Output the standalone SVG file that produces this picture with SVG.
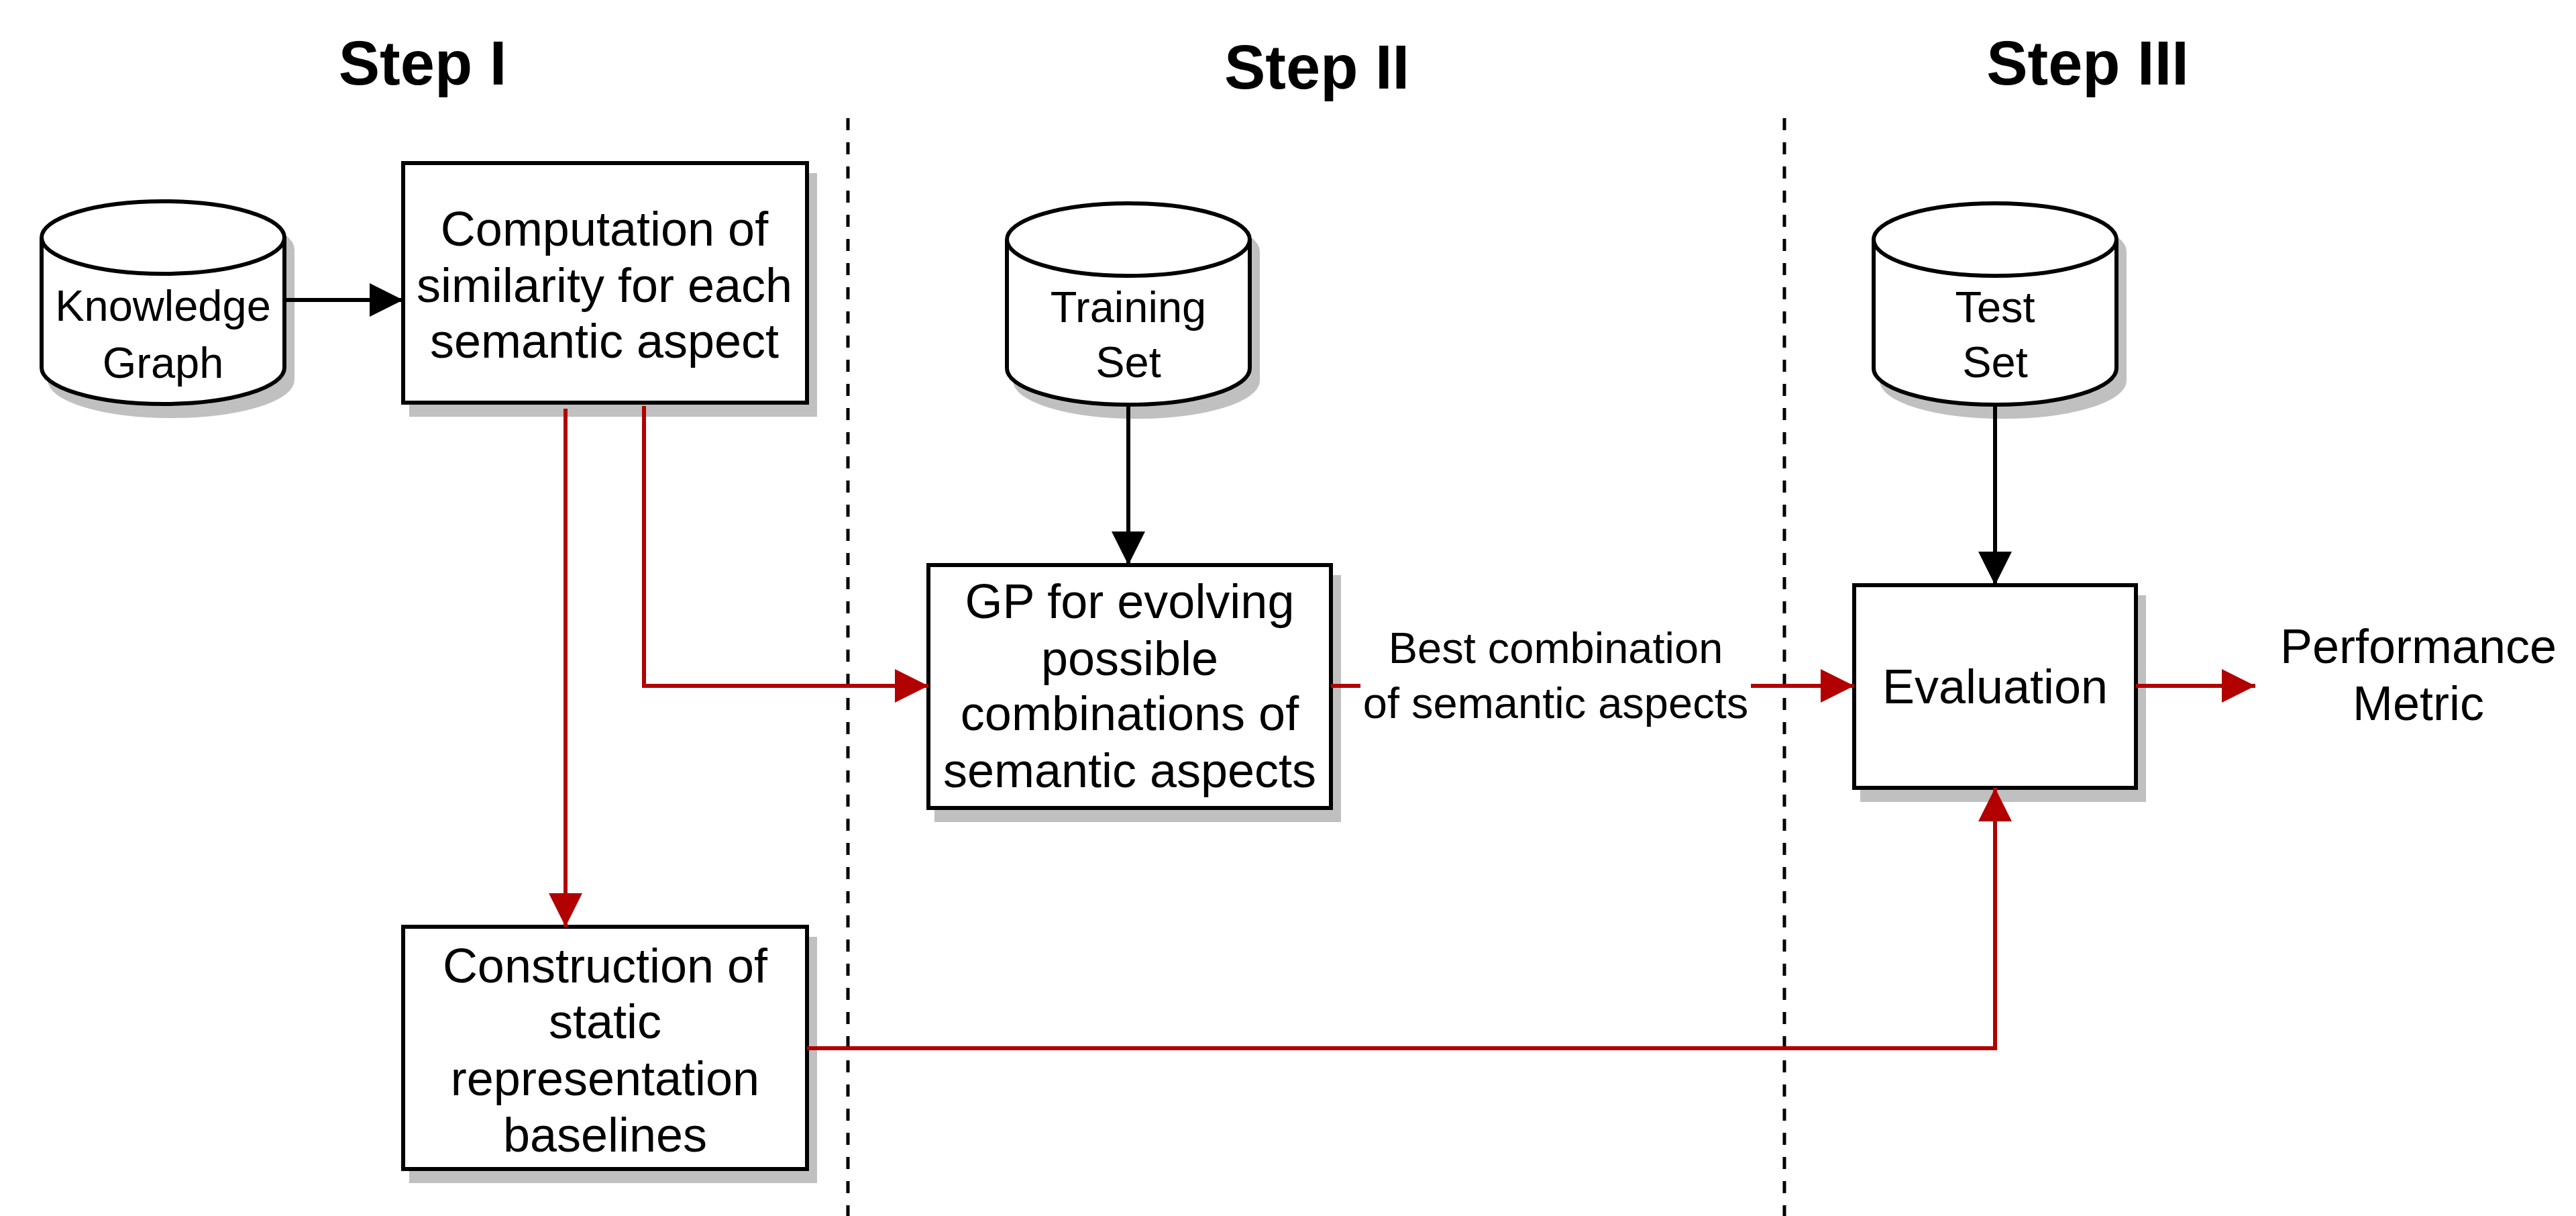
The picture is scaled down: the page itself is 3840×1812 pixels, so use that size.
<svg xmlns="http://www.w3.org/2000/svg" width="3840" height="1812" viewBox="0 0 3840 1812">
<style>
.box{fill:#fff;stroke:#000;stroke-width:6}
.shadow{fill:#c0c0c0;stroke:#c0c0c0;stroke-width:6}
.cyl{fill:#fff;stroke:#000;stroke-width:6}
.t{font-family:"Liberation Sans",Arial,sans-serif;font-size:72px;fill:#000;text-anchor:middle}
.tc{font-family:"Liberation Sans",Arial,sans-serif;font-size:65px;fill:#000;text-anchor:middle}
.h{font-family:"Liberation Sans",Arial,sans-serif;font-size:92px;font-weight:bold;fill:#000;text-anchor:middle}
.blk{fill:none;stroke:#000;stroke-width:6}
.red{fill:none;stroke:#b20000;stroke-width:6}
.dash{fill:none;stroke:#000;stroke-width:5;stroke-dasharray:18 18}
</style>
<defs>
<marker id="ab" viewBox="0 0 50 50" refX="50" refY="25" markerWidth="50" markerHeight="50" markerUnits="userSpaceOnUse" orient="auto">
<path d="M0,0 L50,25 L0,50 Z" fill="#000"/>
</marker>
<marker id="ar" viewBox="0 0 50 50" refX="50" refY="25" markerWidth="50" markerHeight="50" markerUnits="userSpaceOnUse" orient="auto">
<path d="M0,0 L50,25 L0,50 Z" fill="#b20000"/>
</marker>
</defs>
<rect width="3840" height="1812" fill="#fff"/>

<g id="headers">
<text class="h" x="630" y="126">Step I</text>
<text class="h" x="1963" y="132">Step II</text>
<text class="h" x="3112" y="126">Step III</text>
</g>

<g id="dividers">
<line class="dash" x1="1264" y1="176" x2="1264" y2="1812"/>
<line class="dash" x1="2660" y1="176" x2="2660" y2="1812"/>
</g>

<g id="knowledge-graph">
<path class="shadow" d="M74,372 A181,54 0 0 1 436,372 V566 A181,54 0 0 1 74,566 Z"/>
<path class="cyl" d="M62,354 A181,54 0 0 1 424,354 V548 A181,54 0 0 1 62,548 Z"/>
<path class="cyl" d="M62,354 A181,54 0 0 0 424,354"/>
<text class="tc" x="243" y="478">Knowledge</text>
<text class="tc" x="243" y="563">Graph</text>
</g>

<g id="computation">
<rect class="shadow" x="613" y="261" width="602" height="357"/>
<rect class="box" x="601" y="243" width="602" height="357"/>
<text class="t" x="901" y="366">Computation of</text>
<text class="t" x="901" y="450">similarity for each</text>
<text class="t" x="901" y="533">semantic aspect</text>
</g>

<g id="training-set">
<path class="shadow" d="M1513,375 A181,54 0 0 1 1875,375 V567 A181,54 0 0 1 1513,567 Z"/>
<path class="cyl" d="M1501,357 A181,54 0 0 1 1863,357 V549 A181,54 0 0 1 1501,549 Z"/>
<path class="cyl" d="M1501,357 A181,54 0 0 0 1863,357"/>
<text class="tc" x="1682" y="480">Training</text>
<text class="tc" x="1682" y="562">Set</text>
</g>

<g id="test-set">
<path class="shadow" d="M2805,375 A181,54 0 0 1 3167,375 V567 A181,54 0 0 1 2805,567 Z"/>
<path class="cyl" d="M2793,357 A181,54 0 0 1 3155,357 V549 A181,54 0 0 1 2793,549 Z"/>
<path class="cyl" d="M2793,357 A181,54 0 0 0 3155,357"/>
<text class="tc" x="2974" y="480">Test</text>
<text class="tc" x="2974" y="562">Set</text>
</g>

<g id="gp">
<rect class="shadow" x="1396" y="860" width="600" height="362"/>
<rect class="box" x="1384" y="842" width="600" height="362"/>
<text class="t" x="1684" y="921">GP for evolving</text>
<text class="t" x="1684" y="1006">possible</text>
<text class="t" x="1684" y="1088">combinations of</text>
<text class="t" x="1684" y="1173">semantic aspects</text>
</g>

<g id="evaluation">
<rect class="shadow" x="2776" y="890" width="420" height="302"/>
<rect class="box" x="2764" y="872" width="420" height="302"/>
<text class="t" x="2974" y="1048">Evaluation</text>
</g>

<g id="construction">
<rect class="shadow" x="613" y="1399" width="602" height="361"/>
<rect class="box" x="601" y="1381" width="602" height="361"/>
<text class="t" x="902" y="1464">Construction of</text>
<text class="t" x="902" y="1547">static</text>
<text class="t" x="902" y="1632">representation</text>
<text class="t" x="902" y="1716">baselines</text>
</g>

<g id="connectors">
<path class="blk" d="M424,447 H601" marker-end="url(#ab)"/>
<path class="blk" d="M1682,601 V842" marker-end="url(#ab)"/>
<path class="blk" d="M2974,601 V872" marker-end="url(#ab)"/>
<path class="red" d="M843,609 V1381" marker-end="url(#ar)"/>
<path class="red" d="M960,605 V1022 H1384" marker-end="url(#ar)"/>
<path class="red" d="M1984,1022 H2764" marker-end="url(#ar)"/>
<path class="red" d="M3184,1022 H3362" marker-end="url(#ar)"/>
<path class="red" d="M1203,1562 H2974 V1174" marker-end="url(#ar)"/>
<rect x="2028" y="930" width="582" height="160" fill="#fff"/>
<text class="tc" x="2319" y="988">Best combination</text>
<text class="tc" x="2319" y="1070">of semantic aspects</text>
</g>

<g id="performance-metric">
<text class="t" x="3605" y="988">Performance</text>
<text class="t" x="3605" y="1073">Metric</text>
</g>
</svg>
